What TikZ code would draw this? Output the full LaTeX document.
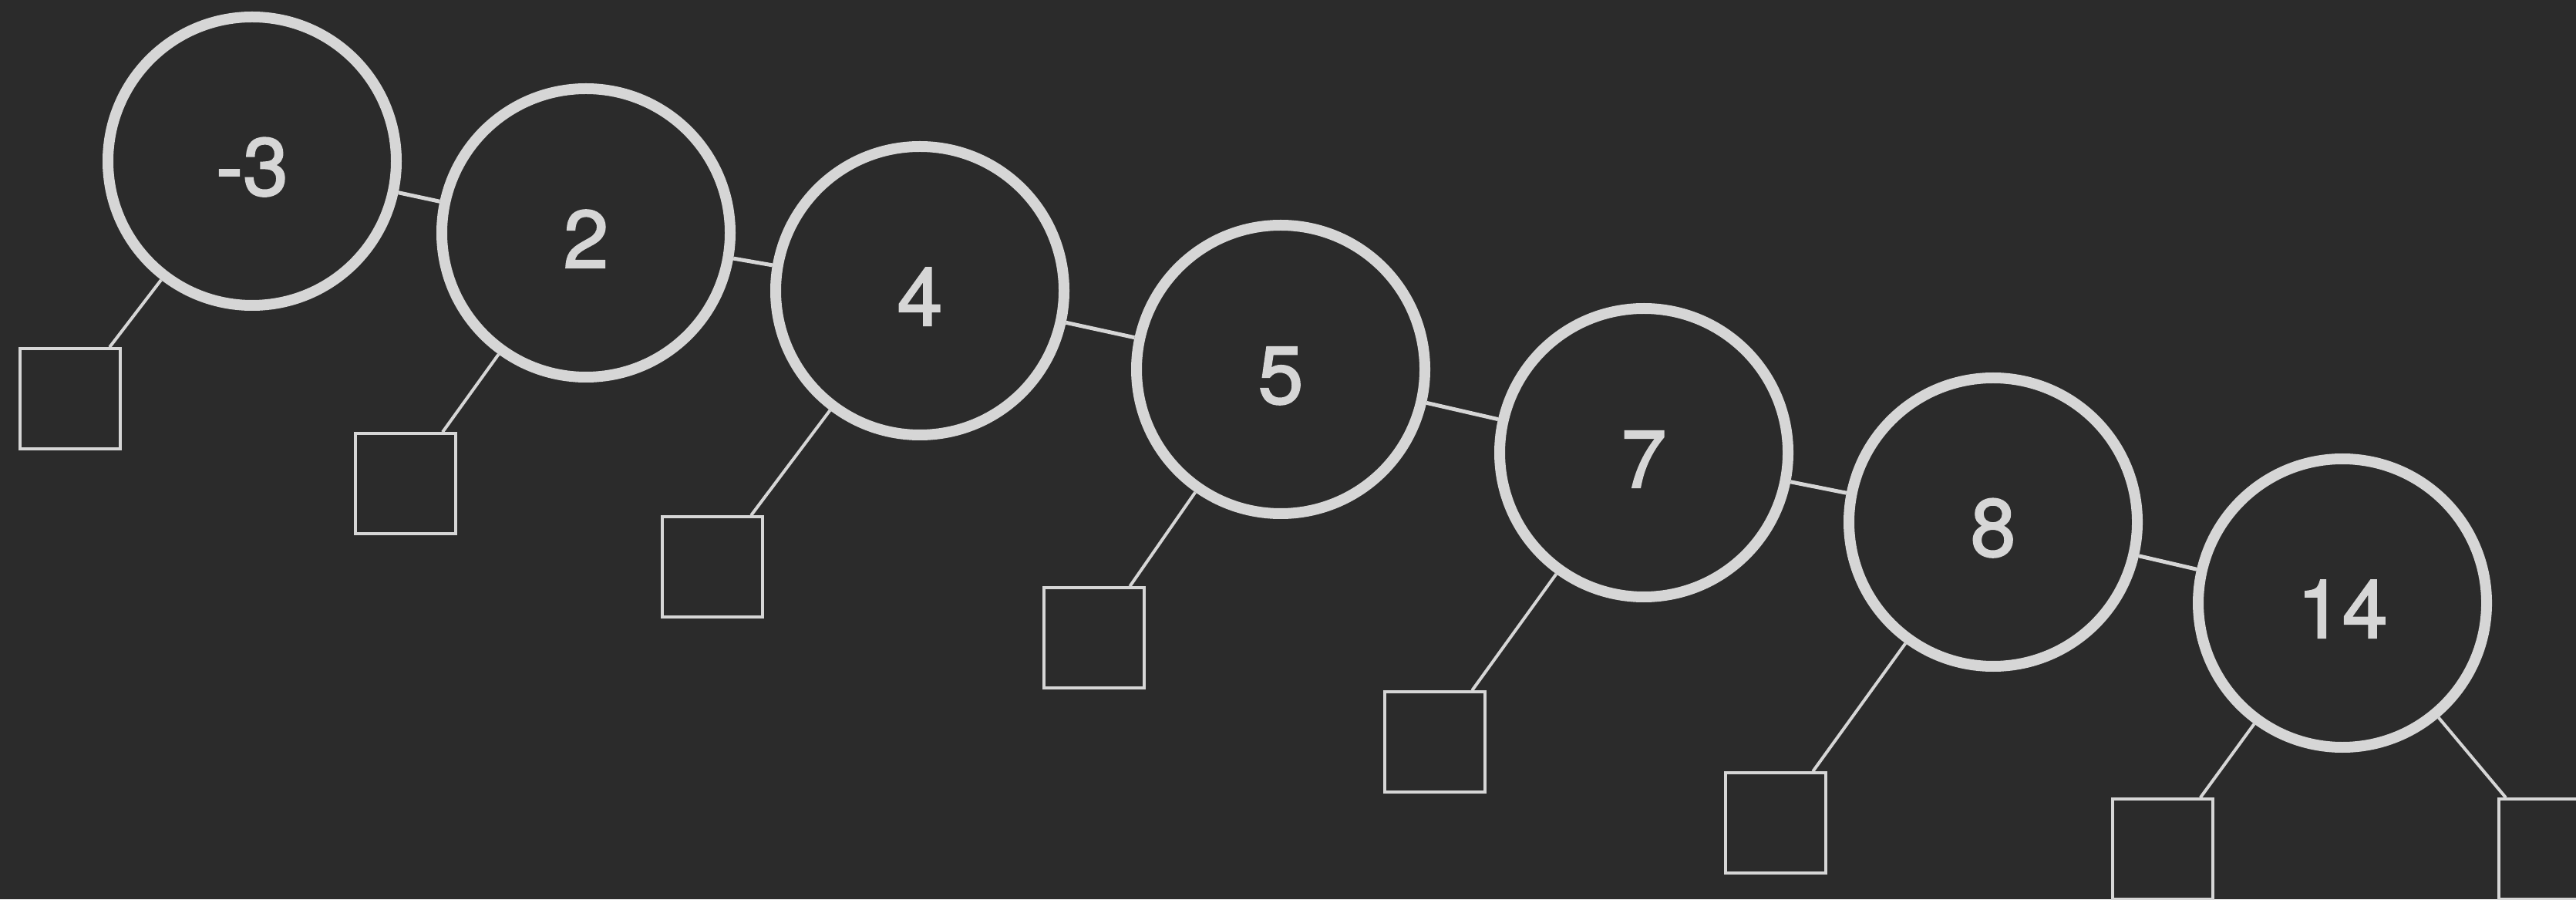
\documentclass[tikz,border=0pt]{standalone}
\usepackage{fontspec}
\newfontfamily\keyfont{TeX Gyre Heros}[FakeBold=2]
\definecolor{board}{HTML}{2B2B2B}
\definecolor{chalk}{HTML}{D6D6D6}

\begin{document}
\begin{tikzpicture}[x=1cm,y=1cm,
  key/.style={circle,draw=chalk,line width=0.14cm,minimum size=3.74cm,inner sep=0pt,text=chalk,text height=0.9cm,font=\keyfont\fontsize{30}{36}\selectfont},
  leaf/.style={rectangle,draw=chalk,line width=0.035cm,minimum size=1.30cm,inner sep=0pt},
  link/.style={draw=chalk,line width=0.05cm},
  twig/.style={draw=chalk,line width=0.04cm}]
\useasboundingbox (0,0) rectangle (33.41,11.66);
\fill[board] (0,0) rectangle (33.41,11.66);
\clip (0,0) rectangle (33.41,11.66);
\node[key] (k1) at (3.27,9.57) {-3};
\node[key] (k2) at (7.60,8.64) {2};
\node[key] (k3) at (11.93,7.89) {4};
\node[key] (k4) at (16.61,6.87) {5};
\node[key] (k5) at (21.32,5.79) {7};
\node[key] (k6) at (25.85,4.89) {8};
\node[key] (k7) at (30.38,3.84) {14};
\node[leaf] (l1) at (0.91,6.49) {};
\node[leaf] (l2) at (5.26,5.39) {};
\node[leaf] (l3) at (9.24,4.31) {};
\node[leaf] (l4) at (14.19,3.39) {};
\node[leaf] (l5) at (18.61,2.04) {};
\node[leaf] (l6) at (23.03,0.99) {};
\node[leaf] (l7) at (28.05,0.65) {};
\node[leaf] (l8) at (33.06,0.65) {};
\draw[link] (k1) -- (k2);
\draw[link] (k2) -- (k3);
\draw[link] (k3) -- (k4);
\draw[link] (k4) -- (k5);
\draw[link] (k5) -- (k6);
\draw[link] (k6) -- (k7);
\draw[twig] (k1) -- (l1);
\draw[twig] (k2) -- (l2);
\draw[twig] (k3) -- (l3);
\draw[twig] (k4) -- (l4);
\draw[twig] (k5) -- (l5);
\draw[twig] (k6) -- (l6);
\draw[twig] (k7) -- (l7);
\draw[twig] (k7) -- (l8);
\end{tikzpicture}
\end{document}
